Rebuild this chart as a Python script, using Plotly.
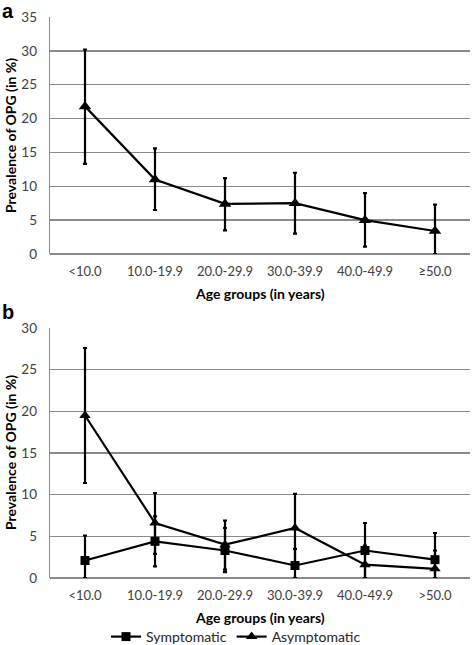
import plotly.graph_objects as go

# ---- data ----
age_groups_a = ["<10.0", "10.0-19.9", "20.0-29.9", "30.0-39.9", "40.0-49.9", "≥50.0"]
age_groups_b = ["<10.0", "10.0-19.9", "20.0-29.9", "30.0-39.9", "40.0-49.9", ">50.0"]

overall = [21.8, 11.0, 7.4, 7.5, 5.0, 3.4]
overall_low = [13.3, 6.5, 3.5, 3.0, 1.1, 0.0]
overall_high = [30.2, 15.6, 11.2, 12.0, 9.0, 7.3]

symptomatic = [2.1, 4.4, 3.3, 1.5, 3.3, 2.2]
symptomatic_low = [0.0, 1.4, 0.7, 0.0, 0.0, 0.0]
symptomatic_high = [5.1, 7.4, 6.0, 3.5, 6.6, 5.4]

asymptomatic = [19.5, 6.6, 4.0, 6.0, 1.6, 1.1]
asymptomatic_low = [11.4, 2.9, 1.0, 1.9, 0.0, 0.0]
asymptomatic_high = [27.6, 10.2, 6.9, 10.1, 3.9, 3.3]

W, H = 472, 645
FONT = "Lato, 'Open Sans', sans-serif"
GRID = "#8a8a8a"
TICKC = "#404040"


def err(vals, lo, hi):
    return dict(type="data", symmetric=False,
                array=[h - v for v, h in zip(vals, hi)],
                arrayminus=[v - l for v, l in zip(vals, lo)],
                color="black", thickness=2.2, width=2)


def ypaper(px):
    return (H - px) / H


fig = go.Figure()

fig.add_trace(go.Scatter(
    x=age_groups_a, y=overall, mode="lines+markers",
    line=dict(color="black", width=2.2),
    marker=dict(symbol="triangle-up", size=11, color="black"),
    error_y=err(overall, overall_low, overall_high),
    xaxis="x", yaxis="y", showlegend=False, cliponaxis=False))

fig.add_trace(go.Scatter(
    x=age_groups_b, y=symptomatic, mode="lines+markers", name="Symptomatic",
    line=dict(color="black", width=2.2),
    marker=dict(symbol="square", size=9, color="black"),
    error_y=err(symptomatic, symptomatic_low, symptomatic_high),
    xaxis="x2", yaxis="y2", cliponaxis=False))

fig.add_trace(go.Scatter(
    x=age_groups_b, y=asymptomatic, mode="lines+markers", name="Asymptomatic",
    line=dict(color="black", width=2.2),
    marker=dict(symbol="triangle-up", size=10, color="black"),
    error_y=err(asymptomatic, asymptomatic_low, asymptomatic_high),
    xaxis="x2", yaxis="y2", cliponaxis=False))

xdom = [50 / W, 470 / W]
common_x = dict(type="category", range=[-0.5, 5.5], showgrid=False, zeroline=False,
                showline=False, ticks="outside", ticklen=5, tickcolor="rgba(0,0,0,0)",
                tickfont=dict(family=FONT, size=13, color=TICKC), fixedrange=True)
common_y = dict(showgrid=True, gridcolor=GRID, gridwidth=1.3, zeroline=True,
                zerolinecolor=GRID, zerolinewidth=1.5, showline=True, linecolor=GRID,
                linewidth=1.3, ticks="outside", ticklen=9, tickcolor="rgba(0,0,0,0)",
                tickfont=dict(family=FONT, size=13.5, color=TICKC), dtick=5, fixedrange=True)

fig.update_layout(
    width=W, height=H, margin=dict(l=0, r=0, t=0, b=0, autoexpand=False),
    paper_bgcolor="white", plot_bgcolor="white",
    xaxis=dict(domain=xdom, anchor="y", categoryarray=age_groups_a, **common_x),
    yaxis=dict(domain=[ypaper(254), ypaper(17)], anchor="x", range=[0, 35], **common_y),
    xaxis2=dict(domain=xdom, anchor="y2", categoryarray=age_groups_b, **common_x),
    yaxis2=dict(domain=[ypaper(578), ypaper(328)], anchor="x2", range=[0, 30], **common_y),
    showlegend=True,
    legend=dict(orientation="h", x=0.5, xanchor="center", y=ypaper(637), yanchor="middle",
                font=dict(family=FONT, size=14, color="#262626"),
                tracegroupgap=0, bgcolor="rgba(0,0,0,0)"),
)

ann_font = dict(family=FONT, size=14, color="black")
anns = [
    dict(text="<b>a</b>", x=8 / W, y=ypaper(11), xanchor="center", yanchor="middle",
         font=dict(family="Liberation Sans, Arial", size=20, color="black")),
    dict(text="<b>b</b>", x=8 / W, y=ypaper(312), xanchor="center", yanchor="middle",
         font=dict(family="Liberation Sans, Arial", size=20, color="black")),
    dict(text="<b>Prevalence of OPG (in %)</b>", x=10 / W, y=ypaper(136), textangle=-90,
         xanchor="center", yanchor="middle", font=ann_font),
    dict(text="<b>Prevalence of OPG (in %)</b>", x=10 / W, y=ypaper(453), textangle=-90,
         xanchor="center", yanchor="middle", font=ann_font),
    dict(text="<b>Age groups (in years)</b>", x=260 / W, y=ypaper(293),
         xanchor="center", yanchor="middle", font=ann_font),
    dict(text="<b>Age groups (in years)</b>", x=260 / W, y=ypaper(617),
         xanchor="center", yanchor="middle", font=ann_font),
]
for a in anns:
    a.update(xref="paper", yref="paper", showarrow=False)
fig.update_layout(annotations=anns)

fig.write_html(
    "out.html",
    config={"displayModeBar": False, "staticPlot": True},
    post_script="document.body.style.margin='0';document.body.style.overflow='hidden';"
                "document.documentElement.style.overflow='hidden';",
)
